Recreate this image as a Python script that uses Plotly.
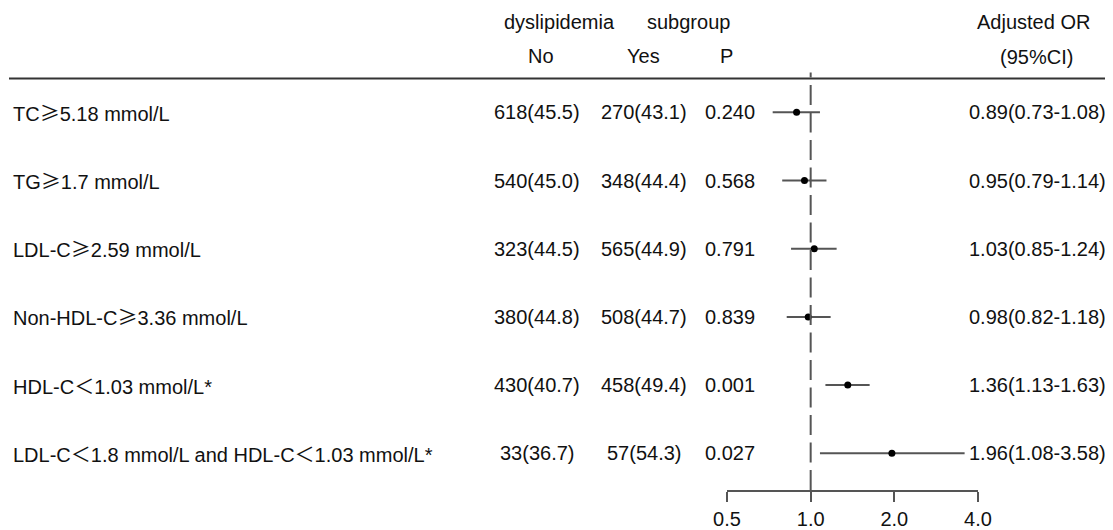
import plotly.graph_objects as go

# ---------------- data ----------------
CJK = "<span style='font-family:Noto Sans CJK SC'>{}</span>"
GE, LT = CJK.format("≥"), CJK.format("＜")
labels = [
    f"TC{GE}5.18 mmol/L",
    f"TG{GE}1.7 mmol/L",
    f"LDL-C{GE}2.59 mmol/L",
    f"Non-HDL-C{GE}3.36 mmol/L",
    f"HDL-C{LT}1.03 mmol/L*",
    f"LDL-C{LT}1.8 mmol/L and HDL-C{LT}1.03 mmol/L*",
]
no_n = [618, 540, 323, 380, 430, 33]
no_pct = ["45.5", "45.0", "44.5", "44.8", "40.7", "36.7"]
yes_n = [270, 348, 565, 508, 458, 57]
yes_pct = ["43.1", "44.4", "44.9", "44.7", "49.4", "54.3"]
p_vals = ["0.240", "0.568", "0.791", "0.839", "0.001", "0.027"]
or_est = [0.89, 0.95, 1.03, 0.98, 1.36, 1.96]
or_lo = [0.73, 0.79, 0.85, 0.82, 1.13, 1.08]
or_hi = [1.08, 1.14, 1.24, 1.18, 1.63, 3.58]
tick_vals = [0.5, 1.0, 2.0, 4.0]
tick_text = ["0.5", "1.0", "2.0", "4.0"]
rows = list(range(1, len(or_est) + 1))

# ---------------- layout geometry (page pixels) ----------------
OFF = 8                      # browser body margin
W, H = 1113 - OFF, 530 - OFF
PL, PR = 727, 978            # plot area left/right in page px (0.5 .. 4.0)
PB = 493                     # axis line, page px
ROW1, ROWSTEP = 113, 68.6

def px(xp):
    return (xp - PL) / (PR - PL)

def py(yp):
    return (PB - yp) / (PB - OFF)

FONT = "Arial, Liberation Sans, sans-serif"
FS = 20
TXT = "#111111"
GRAY = "#555555"

fig = go.Figure()
fig.add_trace(go.Scatter(
    x=or_est, y=rows, mode="markers",
    marker=dict(color="black", size=7),
    error_x=dict(type="data", symmetric=False,
                 array=[h - o for h, o in zip(or_hi, or_est)],
                 arrayminus=[o - l for o, l in zip(or_est, or_lo)],
                 width=0, thickness=2, color=GRAY),
    hoverinfo="skip", showlegend=False, cliponaxis=False,
))

ann = []
def add(text, xp, y, xanchor, yref="y"):
    ann.append(dict(text=text, x=px(xp), y=y, xref="paper", yref=yref,
                    xanchor=xanchor, yanchor="middle", showarrow=False,
                    font=dict(family=FONT, size=FS, color=TXT)))

for i, r in enumerate(rows):
    add(labels[i], 11, r, "left")
    add(f"{no_n[i]}({no_pct[i]})", 537, r, "center")
    add(f"{yes_n[i]}({yes_pct[i]})", 644, r, "center")
    add(p_vals[i], 730, r, "center")
    add(f"{or_est[i]:.2f}({or_lo[i]:.2f}-{or_hi[i]:.2f})", 1108, r, "right")

add("dyslipidemia", 617, py(22), "right", "paper")
add("subgroup", 645, py(22), "left", "paper")
add("No", 541, py(56), "center", "paper")
add("Yes", 643, py(56), "center", "paper")
add("P", 726, py(56), "center", "paper")
add("Adjusted OR", 1033, py(22), "center", "paper")
add("(95%CI)", 1036, py(57), "center", "paper")

shapes = [
    dict(type="line", xref="paper", yref="paper", x0=px(9), x1=px(1113),
         y0=py(79), y1=py(79), line=dict(color="#333333", width=2)),
    dict(type="line", xref="x", yref="paper", x0=1, x1=1,
         y0=0, y1=py(73), line=dict(color=GRAY, width=2, dash="20px,7.5px")),
]

y_top = 1 - (ROW1 - OFF) / ROWSTEP
y_bot = 1 + (PB - ROW1) / ROWSTEP

fig.update_layout(
    width=W, height=H,
    margin=dict(l=PL - OFF, r=1113 - PR, t=0, b=530 - PB, pad=0),
    paper_bgcolor="white", plot_bgcolor="white",
    annotations=ann, shapes=shapes,
    xaxis=dict(type="log", range=[-0.30103, 0.60206], tickvals=tick_vals,
               ticktext=tick_text, ticks="outside", ticklen=10, tickwidth=1.5,
               tickcolor=GRAY, showline=True, linecolor=GRAY, linewidth=1.5,
               showgrid=False, zeroline=False,
               tickfont=dict(family=FONT, size=FS, color=TXT)),
    yaxis=dict(range=[y_bot, y_top], visible=False, showgrid=False,
               zeroline=False),
)

fig.write_html("out.html")
